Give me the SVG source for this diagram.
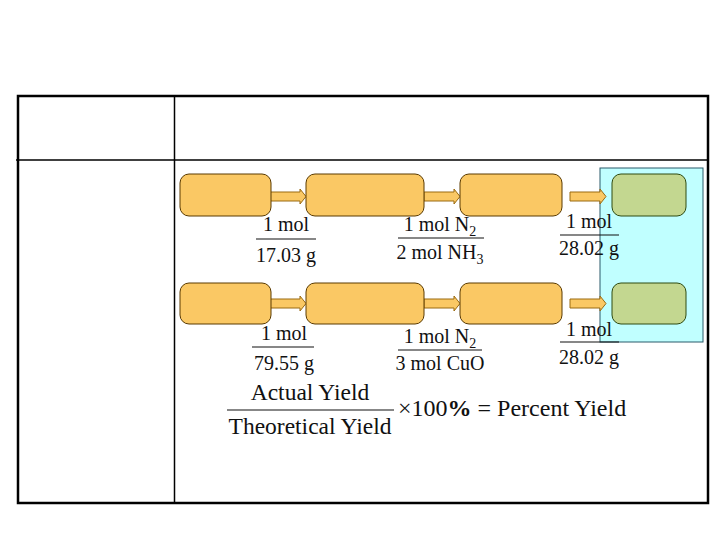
<svg xmlns="http://www.w3.org/2000/svg" width="720" height="540" viewBox="0 0 720 540">
<style>
.t{font-family:"Liberation Serif","Times New Roman",serif;fill:#111;}
.f{font-size:20px;}
.big{font-size:23.5px;}
.box{fill:#FAC864;stroke:#5a3a00;stroke-width:1;}
.gbox{fill:#C3D790;stroke:#2e4a10;stroke-width:1;}
.arr{fill:#FAC864;stroke:#9a6a10;stroke-width:1;}
.fl{stroke:#111;stroke-width:1.2;}
.tb{fill:none;stroke:#000;}
</style>
<rect x="0" y="0" width="720" height="540" fill="#fff"/>
<g id="table">
<rect class="tb" x="18" y="96" width="690" height="407" stroke-width="2.5"/>
<line class="tb" x1="174.5" y1="96" x2="174.5" y2="503" stroke-width="1.5"/>
<line class="tb" x1="16" y1="160" x2="708" y2="160" stroke-width="1.5"/>
</g>
<g id="highlight">
<rect x="600" y="168" width="103" height="174" fill="#C0FFFF" stroke="#2a5a6a" stroke-width="1"/>
</g>
<g id="connectors">
<polygon class="arr" points="270,192 300,192 300,189 306,196.5 300,204 300,201 270,201"/>
<polygon class="arr" points="424,192 454,192 454,189 460,196.5 454,204 454,201 424,201"/>
<polygon class="arr" points="570,192 600,192 600,189 606,196.5 600,204 600,201 570,201"/>
<polygon class="arr" points="270,299 300,299 300,296 306,303.5 300,311 300,308 270,308"/>
<polygon class="arr" points="424,299 454,299 454,296 460,303.5 454,311 454,308 424,308"/>
<polygon class="arr" points="570,299 600,299 600,296 606,303.5 600,311 600,308 570,308"/>
</g>
<g id="n1"><rect class="box" x="180" y="174" width="91" height="42" rx="9"/></g>
<g id="n2"><rect class="box" x="306" y="174" width="118" height="42" rx="9"/></g>
<g id="n3"><rect class="box" x="460" y="174" width="102" height="42" rx="9"/></g>
<g id="n4"><rect class="gbox" x="612" y="174" width="74" height="42" rx="9"/></g>
<g id="n5"><rect class="box" x="180" y="283" width="91" height="41" rx="9"/></g>
<g id="n6"><rect class="box" x="306" y="283" width="118" height="41" rx="9"/></g>
<g id="n7"><rect class="box" x="460" y="283" width="102" height="41" rx="9"/></g>
<g id="n8"><rect class="gbox" x="612" y="283" width="74" height="41" rx="9"/></g>
<g id="fractions" class="t f" text-anchor="middle">
<text x="286" y="231">1 mol</text>
<line class="fl" x1="256" y1="239" x2="316" y2="239"/>
<text x="286" y="262">17.03 g</text>
<text x="440" y="231">1 mol N<tspan font-size="14" dy="5">2</tspan></text>
<line class="fl" x1="398" y1="238" x2="484" y2="238"/>
<text x="440" y="259">2 mol NH<tspan font-size="14" dy="5">3</tspan></text>
<text x="589" y="228">1 mol</text>
<line class="fl" x1="560" y1="235" x2="619" y2="235"/>
<text x="589" y="255">28.02 g</text>
<text x="284" y="340">1 mol</text>
<line class="fl" x1="252" y1="347" x2="314" y2="347"/>
<text x="284" y="370">79.55 g</text>
<text x="440" y="343">1 mol N<tspan font-size="14" dy="5">2</tspan></text>
<line class="fl" x1="398" y1="350" x2="482" y2="350"/>
<text x="440" y="370">3 mol CuO</text>
<text x="589" y="336">1 mol</text>
<line class="fl" x1="560" y1="342" x2="619" y2="342"/>
<text x="589" y="364">28.02 g</text>
</g>
<g id="formula" class="t big">
<text x="310" y="400" text-anchor="middle">Actual Yield</text>
<line class="fl" x1="227" y1="410" x2="394" y2="410"/>
<text x="310" y="434" text-anchor="middle">Theoretical Yield</text>
<text x="398" y="416" font-size="24">×100<tspan font-weight="bold">%</tspan> = Percent Yield</text>
</g>
</svg>
